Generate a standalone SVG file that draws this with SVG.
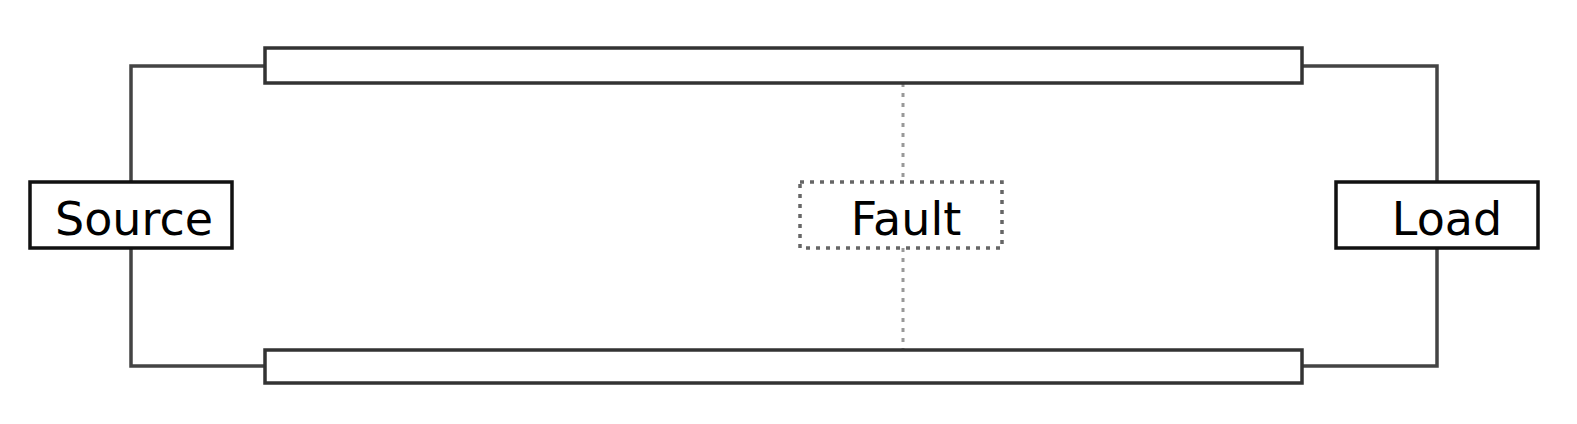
<svg xmlns="http://www.w3.org/2000/svg" width="1577" height="424" viewBox="0 0 1577 424">
<style>
.node{fill:#fff;stroke:#111;stroke-width:3.5}
.bar{fill:#fff;stroke:#333;stroke-width:3.5}
.fault{fill:#fff;stroke:#666;stroke-width:3.5;stroke-dasharray:4 6}
.wire{fill:none;stroke:#444;stroke-width:3.5}
.dot{fill:none;stroke:#999;stroke-width:3;stroke-dasharray:4 6}
.lbl{font-family:"DejaVu Sans","Liberation Sans",sans-serif;font-size:46px;fill:#000;text-anchor:middle}
</style>
<rect width="1577" height="424" fill="#fff"/>
<g id="connectors">
<path class="wire" d="M131,182 V66 H265"/>
<path class="wire" d="M131,248 V366 H265"/>
<path class="wire" d="M1302,66 H1437 V182"/>
<path class="wire" d="M1437,248 V366 H1302"/>
<path class="dot" d="M903,83 V182"/>
<path class="dot" d="M903,248 V350"/>
</g>
<g id="line-top"><rect class="bar" x="265" y="48" width="1037" height="35"/></g>
<g id="line-bottom"><rect class="bar" x="265" y="350" width="1037" height="33"/></g>
<g id="source"><rect class="node" x="30" y="182" width="202" height="66"/><text class="lbl" x="134" y="235">Source</text></g>
<g id="fault"><rect class="fault" x="800" y="182" width="202" height="66"/><text class="lbl" x="906" y="235">Fault</text></g>
<g id="load"><rect class="node" x="1336" y="182" width="202" height="66"/><text class="lbl" x="1447" y="235">Load</text></g>
</svg>
